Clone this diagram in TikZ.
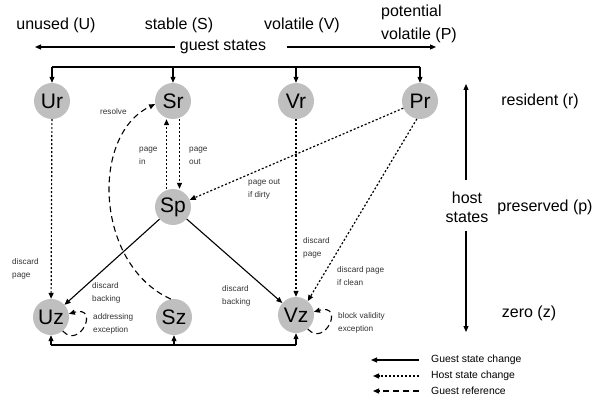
\documentclass[tikz,border=0pt]{standalone}
\usepackage{fontspec}
\setmainfont{Liberation Sans}
\usetikzlibrary{arrows.meta}
\begin{document}
\begin{tikzpicture}[x=1pt,y=-1pt,
  st/.style={circle,fill=black!25,minimum size=36pt,inner sep=0pt,font=\fontsize{21}{23}\selectfont},
  big/.style={font=\fontsize{16}{19}\selectfont,inner sep=0pt},
  small/.style={font=\fontsize{8.2}{12.5}\selectfont,inner sep=0pt,align=left,anchor=west,text=black!80},
  leg/.style={font=\fontsize{10.4}{12}\selectfont,inner sep=0pt,anchor=west},
  tip/.style={-{Triangle[length=6pt,width=5pt]}},
  gsc/.style={tip,line width=1.1pt},
  hsc/.style={tip,line width=1.2pt,dash pattern=on 2pt off 2pt},
  gref/.style={tip,line width=1.1pt,dash pattern=on 6pt off 4pt},
  plain/.style={line width=1.1pt}]
\useasboundingbox (0,0) rectangle (599,401);
% nodes
\node[st] (Ur) at (52,101) {Ur};
\node[st] (Sr) at (173,101) {Sr};
\node[st] (Vr) at (296,101) {Vr};
\node[st] (Pr) at (420,101) {Pr};
\node[st] (Sp) at (173,207) {Sp};
\node[st] (Uz) at (51,317) {Uz};
\node[st] (Sz) at (174,317) {Sz};
\node[st] (Vz) at (296,315) {Vz};
% top labels
\node[big] (lu) at (56,25) {unused (U)};
\node[big] (ls) at (179,25) {stable (S)};
\node[big] (lv) at (302,25) {volatile (V)};
\node[big,anchor=west] (lp1) at (381,12) {potential};
\node[big,anchor=west] (lp2) at (381,35) {volatile (P)};
\node[big] (gs) at (223,47) {guest states};
\coordinate (gsl) at (35,47);
\coordinate (gsr) at (436,47);
\coordinate (gsla) at (175,47);
\coordinate (gsra) at (287,47);
\draw[gsc] (gsla) -- (gsl);
\draw[gsc] (gsra) -- (gsr);
% host states
\node[big,align=center] (hs) at (467,207) {host\\states};
\coordinate (hsu) at (466,84);
\coordinate (hsd) at (466,332);
\coordinate (hsua) at (466,180);
\coordinate (hsda) at (466,231);
\draw[gsc] (hsua) -- (hsu);
\draw[gsc] (hsda) -- (hsd);
\node[big] (lr) at (540,101) {resident (r)};
\node[big] (lpp) at (545,207) {preserved (p)};
\node[big] (lz) at (529,313) {zero (z)};
% top bus
\coordinate (tb) at (0,67);
\draw[plain] (Ur|-tb) -- (Pr|-tb);
\foreach \n in {Ur,Sr,Vr,Pr} \draw[gsc] (\n|-tb) -- (\n);
% bottom bus
\coordinate (bb) at (0,345);
\draw[plain] (Uz|-bb) -- (Vz|-bb);
\foreach \n in {Uz,Sz,Vz} \draw[gsc] (\n|-bb) -- (\n);
% host state changes
\draw[hsc] (Ur) -- (Uz);
\draw[hsc] (Vr) -- (Vz);
\draw[hsc] ([xshift=-6.5pt]Sp.north) -- ([xshift=-6.5pt]Sr.south);
\draw[hsc] ([xshift=6.5pt]Sr.south) -- ([xshift=6.5pt]Sp.north);
\draw[hsc] (Pr) -- (Sp);
\draw[hsc] (Pr.-100) -- (Vz.50);
% guest state changes
\draw[gsc] (Sp) -- (Uz);
\draw[gsc] (Sp) -- (Vz);
% guest references
\draw[gref] (Sz.100) .. controls (95,265) and (90,135) .. (Sr.190);
\draw[gref] (Uz.-50) .. controls (80,350) and (100,305) .. (Uz.10);
\draw[gref] (Vz.-50) .. controls (325,348) and (345,303) .. (Vz.10);
% small labels
\node[small] (t1) at (100,112) {resolve};
\node[small] (t2) at (139,156) {page\\in};
\node[small] (t3) at (189,156) {page\\out};
\node[small] (t4) at (248,189) {page out\\if dirty};
\node[small] (t5) at (12,269) {discard\\page};
\node[small] (t6) at (303,248) {discard\\page};
\node[small] (t7) at (337,276) {discard page\\if clean};
\node[small] (t8) at (92,293) {discard\\backing};
\node[small] (t9) at (222,296) {discard\\backing};
\node[small] (t10) at (93,324) {addressing\\exception};
\node[small] (t11) at (338,323) {block validity\\exception};
% legend
\node[leg] (g1) at (431,360) {Guest state change};
\node[leg] (g2) at (431,376) {Host state change};
\node[leg] (g3) at (431,391) {Guest reference};
\coordinate (e1) at (419,360); \coordinate (s1) at (371,360);
\coordinate (e2) at (419,376); \coordinate (s2) at (373,376);
\coordinate (e3) at (419,391); \coordinate (s3) at (373,391);
\draw[gsc] (e1) -- (s1);
\draw[hsc] (e2) -- (s2);
\draw[gref] (e3) -- (s3);
\end{tikzpicture}
\end{document}
